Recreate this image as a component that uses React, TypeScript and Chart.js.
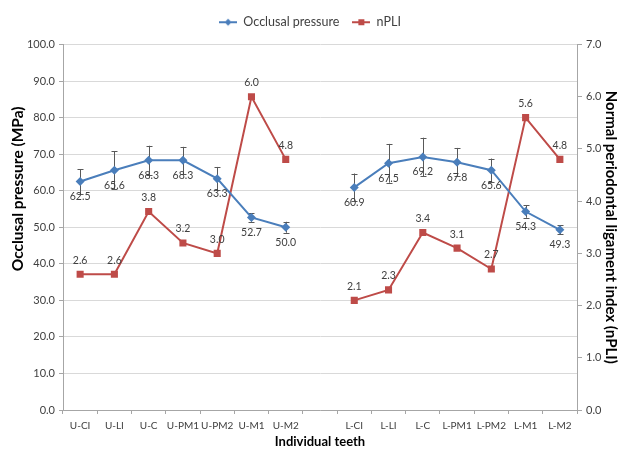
import React, { useEffect, useRef } from 'react';
import { Chart, registerables } from 'chart.js';

Chart.register(...registerables);

const categories = ['U-CI', 'U-LI', 'U-C', 'U-PM1', 'U-PM2', 'U-M1', 'U-M2', '', 'L-CI', 'L-LI', 'L-C', 'L-PM1', 'L-PM2', 'L-M1', 'L-M2'];
const occlusalPressure = [62.5, 65.6, 68.3, 68.3, 63.3, 52.7, 50.0, null, 60.9, 67.5, 69.2, 67.8, 65.6, 54.3, 49.3];
const occlusalError = [3.4, 5.2, 4.0, 3.7, 3.2, 1.2, 1.5, null, 3.8, 5.3, 5.3, 3.9, 3.2, 1.7, 1.2];
const nPLI = [2.6, 2.6, 3.8, 3.2, 3.0, 6.0, 4.8, null, 2.1, 2.3, 3.4, 3.1, 2.7, 5.6, 4.8];
const leftTicks = { min: 0, max: 100, step: 10 };
const rightTicks = { min: 0, max: 7, step: 1 };
const leftTitle = 'Occlusal pressure (MPa)';
const rightTitle = 'Normal periodontal ligament index (nPLI)';
const xTitle = 'Individual teeth';

const BLUE = '#4A7EBB';
const RED = '#BE4B48';
const FONT = 'Lato, "Liberation Sans", sans-serif';

function makeIcon(color: string, shape: 'diamond' | 'square'): HTMLCanvasElement {
  const c = document.createElement('canvas');
  c.width = 18;
  c.height = 10;
  const g = c.getContext('2d')!;
  g.strokeStyle = color;
  g.lineWidth = 2;
  g.beginPath();
  g.moveTo(0, 5);
  g.lineTo(18, 5);
  g.stroke();
  g.fillStyle = color;
  if (shape === 'diamond') {
    g.beginPath();
    g.moveTo(9, 1.5);
    g.lineTo(12.5, 5);
    g.lineTo(9, 8.5);
    g.lineTo(5.5, 5);
    g.closePath();
    g.fill();
  } else {
    g.fillRect(6, 2, 6, 6);
  }
  return c;
}

const errorBarPlugin = {
  id: 'errorBars',
  beforeDatasetsDraw(chart: any) {
    const meta = chart.getDatasetMeta(0);
    const y = chart.scales.y;
    const ctx = chart.ctx;
    ctx.save();
    ctx.strokeStyle = '#595959';
    ctx.lineWidth = 1;
    occlusalPressure.forEach((v, i) => {
      const e = occlusalError[i];
      if (v == null || e == null) return;
      const x = Math.round(meta.data[i].x) + 0.5;
      const yt = y.getPixelForValue(v + e);
      const yb = y.getPixelForValue(v - e);
      ctx.beginPath();
      ctx.moveTo(x, yt);
      ctx.lineTo(x, yb);
      ctx.moveTo(x - 3, Math.round(yt) + 0.5);
      ctx.lineTo(x + 3, Math.round(yt) + 0.5);
      ctx.moveTo(x - 3, Math.round(yb) + 0.5);
      ctx.lineTo(x + 3, Math.round(yb) + 0.5);
      ctx.stroke();
    });
    ctx.restore();
  },
};

const dataLabelPlugin = {
  id: 'dataLabels',
  afterDatasetsDraw(chart: any) {
    const ctx = chart.ctx;
    ctx.save();
    ctx.font = `10.5px ${FONT}`;
    ctx.fillStyle = '#404040';
    ctx.textAlign = 'center';
    ctx.textBaseline = 'middle';
    const m0 = chart.getDatasetMeta(0);
    occlusalPressure.forEach((v, i) => {
      if (v == null) return;
      const p = m0.data[i];
      ctx.fillText(v.toFixed(1), p.x, p.y + 15);
    });
    const m1 = chart.getDatasetMeta(1);
    nPLI.forEach((v, i) => {
      if (v == null) return;
      const p = m1.data[i];
      ctx.fillText(v.toFixed(1), p.x, p.y - 14);
    });
    ctx.restore();
  },
};

// Left axis title sits above the axis centre in the reference; anchor it to the axis value 60.
const leftTitlePlugin = {
  id: 'leftTitle',
  afterDraw(chart: any) {
    const ctx = chart.ctx;
    const y = chart.scales.y;
    ctx.save();
    ctx.translate(17.5, y.getPixelForValue(60.5));
    ctx.rotate(-Math.PI / 2);
    ctx.font = `bold 15.5px ${FONT}`;
    ctx.fillStyle = '#000';
    ctx.textAlign = 'center';
    ctx.textBaseline = 'middle';
    ctx.fillText(leftTitle, 0, 0);
    ctx.restore();
  },
};

export default function App() {
  const ref = useRef<HTMLCanvasElement>(null);

  useEffect(() => {
    if (!ref.current) return;
    Chart.defaults.font.family = FONT;
    Chart.defaults.color = '#404040';
    const icons = [makeIcon(BLUE, 'diamond'), makeIcon(RED, 'square')];
    const chart = new Chart(ref.current, {
      type: 'line',
      data: {
        labels: categories,
        datasets: [
          {
            label: 'Occlusal pressure',
            data: occlusalPressure,
            yAxisID: 'y',
            borderColor: BLUE,
            backgroundColor: BLUE,
            borderWidth: 2,
            pointStyle: 'rectRot',
            pointRadius: 4.5,
            pointBorderWidth: 0,
            spanGaps: false,
            tension: 0,
          },
          {
            label: 'nPLI',
            data: nPLI,
            yAxisID: 'y1',
            borderColor: RED,
            backgroundColor: RED,
            borderWidth: 2,
            pointStyle: 'rect',
            pointRadius: 5,
            pointBorderWidth: 0,
            spanGaps: false,
            tension: 0,
          },
        ],
      },
      options: {
        responsive: false,
        animation: false,
        layout: { padding: { top: 3, left: 0, right: 0, bottom: 0 } },
        plugins: {
          legend: {
            position: 'top',
            labels: {
              usePointStyle: true,
              pointStyleWidth: 18,
              padding: 13,
              color: '#404040',
              font: { size: 12.5, family: FONT },
              generateLabels: (c: any) => {
                const items = (Chart.defaults.plugins.legend.labels as any).generateLabels(c);
                items.forEach((it: any, i: number) => {
                  it.pointStyle = icons[i];
                });
                return items;
              },
            },
          },
          tooltip: { enabled: false },
        },
        scales: {
          x: {
            type: 'category',
            offset: true,
            grid: { display: true, drawOnChartArea: false, drawTicks: true, tickLength: 4, color: '#A6A6A6', offset: true },
            border: { display: true, color: '#A6A6A6' },
            ticks: { color: '#404040', font: { size: 10 }, maxRotation: 0, autoSkip: false, padding: 6 },
            title: { display: true, text: xTitle, color: '#000', font: { size: 13, weight: 'bold' }, padding: { top: 0, bottom: 0 } },
            afterFit: (s: any) => { s.height = 40; },
          },
          xSpacer: {
            type: 'category',
            position: 'top',
            display: true,
            grid: { display: false, drawTicks: false },
            border: { display: false },
            ticks: { display: false },
            afterFit: (s: any) => { s.height = 6; },
          },
          y: {
            type: 'linear',
            position: 'left',
            min: leftTicks.min,
            max: leftTicks.max,
            ticks: { stepSize: leftTicks.step, color: '#404040', font: { size: 11 }, padding: 4, callback: (v: any) => Number(v).toFixed(1) },
            grid: { color: '#D9D9D9', tickLength: 4, tickColor: '#A6A6A6' },
            border: { display: true, color: '#A6A6A6' },
            title: { display: false },
            afterFit: (s: any) => { s.width = 63; },
          },
          y1: {
            type: 'linear',
            position: 'right',
            min: rightTicks.min,
            max: rightTicks.max,
            ticks: { stepSize: rightTicks.step, color: '#404040', font: { size: 11 }, padding: 4, callback: (v: any) => Number(v).toFixed(1) },
            grid: { drawOnChartArea: false, tickLength: 5, color: '#A6A6A6' },
            border: { display: true, color: '#A6A6A6' },
            title: { display: true, text: rightTitle, color: '#000', font: { size: 15, weight: 'bold' }, padding: { top: 0, bottom: 0 } },
            afterFit: (s: any) => { s.width = 43; },
          },
        },
      },
      plugins: [errorBarPlugin, dataLabelPlugin, leftTitlePlugin],
    });
    return () => chart.destroy();
  }, []);

  return (
    <div style={{ position: 'absolute', left: 0, top: 0, width: 620, height: 450, background: '#fff' }}>
      <canvas ref={ref} width={620} height={450} />
    </div>
  );
}
